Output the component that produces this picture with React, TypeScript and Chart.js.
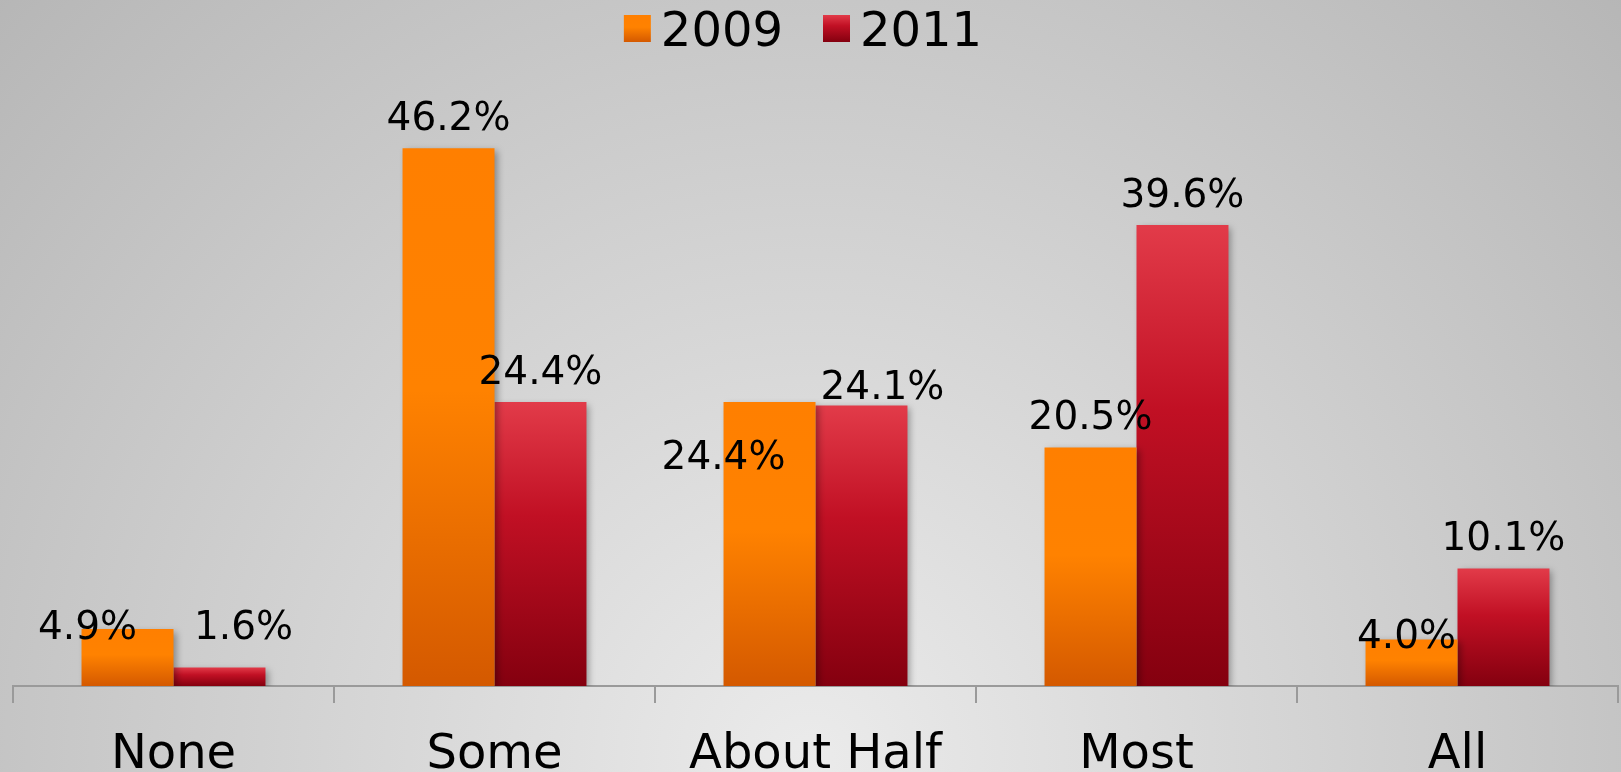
import React, { useEffect, useRef } from "react";
import { Chart, registerables } from "chart.js";

Chart.register(...registerables);

// ---- data ----
const CATEGORIES = ["None", "Some", "About Half", "Most", "All"];
const SERIES_NAMES = ["2009", "2011"];
const VALUES_2009 = [4.9, 46.2, 24.4, 20.5, 4.0];
const VALUES_2011 = [1.6, 24.4, 24.1, 39.6, 10.1];

// ---- styling / layout (not data) ----
const FONT = '"DejaVu Sans", Verdana, sans-serif';
const ORANGE_STOPS: [number, string][] = [
  [0, "#ff7f00"],
  [0.45, "#ff8200"],
  [1, "#d45900"],
];
const RED_STOPS: [number, string][] = [
  [0, "#e23b49"],
  [0.4, "#c11024"],
  [1, "#84000f"],
];
// manual nudges of the value labels (px), per series, per category
const LABEL_NUDGE: [number, number][][] = [
  [[-40, 28], [0, 0], [-46, 85], [0, 0], [-5, 27]],
  [[24, -10], [0, 0], [21, 12], [0, 0], [0, 0]],
];

function barGradient(stops: [number, string][]) {
  return (ctx: any) => {
    const chart = ctx.chart;
    const ys = chart.scales && chart.scales.y;
    if (!ys || ctx.type !== "data" || !chart.chartArea) return stops[1][1];
    const top = ys.getPixelForValue(ctx.raw);
    const base = ys.getPixelForValue(0);
    if (!isFinite(top) || !isFinite(base) || top === base) return stops[1][1];
    const g = chart.ctx.createLinearGradient(0, top, 0, base);
    stops.forEach(([o, c]) => g.addColorStop(o, c));
    return g;
  };
}

const backgroundPlugin = {
  id: "bgGradient",
  beforeDraw(chart: any) {
    const { ctx, width, height } = chart;
    ctx.save();
    const g = ctx.createRadialGradient(810, 760, 0, 810, 760, 1120);
    g.addColorStop(0, "#ebebeb");
    g.addColorStop(1, "#b6b6b6");
    ctx.fillStyle = g;
    ctx.fillRect(0, 0, width, height);
    ctx.restore();
  },
};

const shadowPlugin = {
  id: "barShadow",
  beforeDatasetsDraw(chart: any) {
    const ctx = chart.ctx;
    ctx.save();
    ctx.shadowColor = "rgba(0,0,0,0.35)";
    ctx.shadowBlur = 7;
    ctx.shadowOffsetX = 3;
    ctx.shadowOffsetY = 3;
  },
  afterDatasetsDraw(chart: any) {
    chart.ctx.restore();
  },
};

const valueLabelPlugin = {
  id: "valueLabels",
  afterDatasetsDraw(chart: any) {
    const ctx = chart.ctx;
    ctx.save();
    ctx.font = `39px ${FONT}`;
    ctx.fillStyle = "#000";
    ctx.textAlign = "center";
    ctx.textBaseline = "alphabetic";
    chart.data.datasets.forEach((ds: any, di: number) => {
      const meta = chart.getDatasetMeta(di);
      meta.data.forEach((el: any, i: number) => {
        const v = ds.data[i];
        const [dx, dy] = LABEL_NUDGE[di][i];
        ctx.fillText(v.toFixed(1) + "%", el.x + dx, el.y - 18 + dy);
      });
    });
    ctx.restore();
  },
};

const legendPlugin = {
  id: "customLegend",
  afterDraw(chart: any) {
    const ctx = chart.ctx;
    ctx.save();
    ctx.font = `48px ${FONT}`;
    ctx.textBaseline = "alphabetic";
    ctx.textAlign = "left";
    const box = 27;
    const gap = 10;
    const itemGap = 40;
    const names = chart.data.datasets.map((d: any) => d.label);
    const widths = names.map((n: string) => ctx.measureText(n).width);
    let total = 0;
    widths.forEach((w: number, i: number) => {
      total += box + gap + w + (i < widths.length - 1 ? itemGap : 0);
    });
    let x = 803 - total / 2;
    const stopsList = [ORANGE_STOPS, RED_STOPS];
    names.forEach((n: string, i: number) => {
      const g = ctx.createLinearGradient(0, 15, 0, 15 + box);
      stopsList[i].forEach(([o, c]) => g.addColorStop(o, c));
      ctx.fillStyle = g;
      ctx.fillRect(x, 15, box, box);
      ctx.fillStyle = "#000";
      ctx.fillText(n, x + box + gap, 46);
      x += box + gap + widths[i] + itemGap;
    });
    ctx.restore();
  },
};

export default function App() {
  const ref = useRef<HTMLCanvasElement | null>(null);

  useEffect(() => {
    document.body.style.margin = "0";
    const canvas = ref.current;
    if (!canvas) return;
    const chart = new Chart(canvas, {
      type: "bar",
      data: {
        labels: CATEGORIES,
        datasets: [
          {
            label: SERIES_NAMES[0],
            data: VALUES_2009,
            backgroundColor: barGradient(ORANGE_STOPS),
            borderWidth: 0,
            categoryPercentage: 0.573,
            barPercentage: 1.0,
          },
          {
            label: SERIES_NAMES[1],
            data: VALUES_2011,
            backgroundColor: barGradient(RED_STOPS),
            borderWidth: 0,
            categoryPercentage: 0.573,
            barPercentage: 1.0,
          },
        ],
      },
      options: {
        responsive: false,
        animation: false,
        devicePixelRatio: 1,
        layout: { padding: { top: 104, left: 13, right: 3, bottom: 0 } },
        plugins: {
          legend: { display: false },
          tooltip: { enabled: false },
          title: { display: false },
        },
        scales: {
          x: {
            offset: true,
            grid: {
              offset: true,
              display: true,
              drawOnChartArea: false,
              drawTicks: true,
              tickLength: 17,
              color: "#9a9a9a",
              lineWidth: 2,
            },
            border: { display: true, color: "#9a9a9a", width: 2 },
            ticks: {
              color: "#000",
              font: { family: FONT, size: 48 },
              padding: 24,
              maxRotation: 0,
              autoSkip: false,
            },
            afterFit: (scale: any) => {
              scale.height = 86;
            },
          },
          y: {
            display: false,
            min: 0,
            max: 50,
          },
        },
      },
      plugins: [backgroundPlugin, shadowPlugin, valueLabelPlugin, legendPlugin],
    });
    return () => chart.destroy();
  }, []);

  return (
    <div style={{ width: 1621, height: 772, overflow: "hidden" }}>
      <canvas ref={ref} width={1621} height={772} style={{ display: "block" }} />
    </div>
  );
}
